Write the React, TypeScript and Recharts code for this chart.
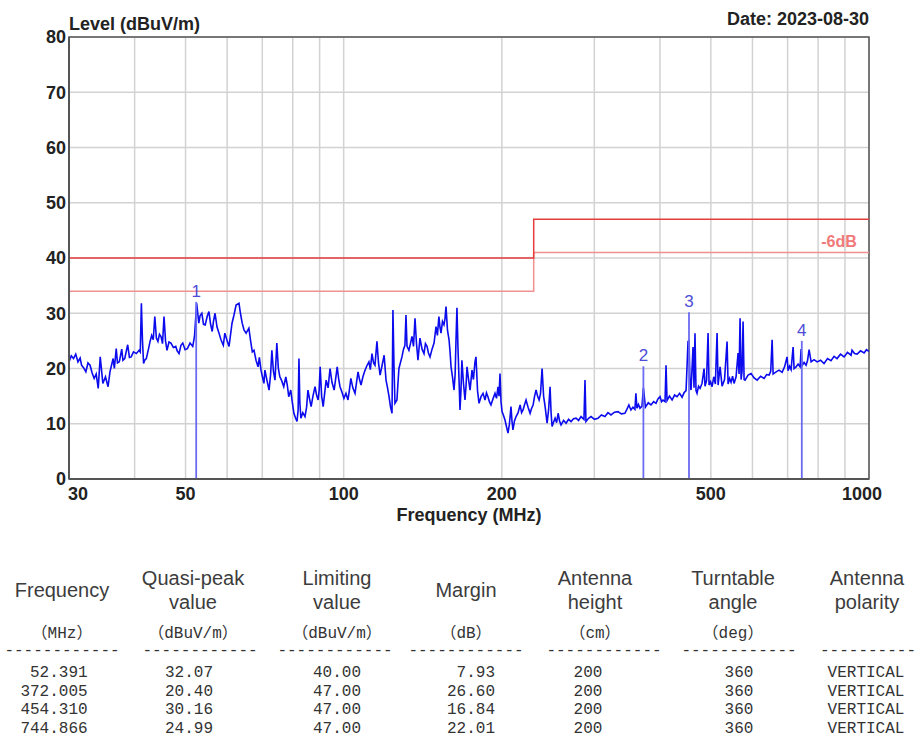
import React from 'react';
import {
  ComposedChart,
  Line,
  XAxis,
  YAxis,
  CartesianGrid,
  ReferenceLine,
  ReferenceDot,
  ReferenceArea,
} from 'recharts';

const trace: [number, number][] = [
  [30.0, 21.2], [30.3, 22.3], [30.6, 21.8], [30.9, 22.6], [31.2, 21.2], [31.5, 21.9], [31.7, 20.6], [32.0, 20.1],
  [32.3, 19.4], [32.6, 21.0], [32.9, 20.6], [33.2, 19.2], [33.5, 18.2], [33.8, 19.0], [34.1, 16.4], [34.4, 22.1],
  [34.8, 17.3], [35.2, 18.5], [35.6, 16.7], [35.9, 19.4], [36.4, 21.8], [36.6, 20.0], [36.9, 23.6], [37.1, 21.0],
  [37.4, 21.2], [37.8, 23.5], [38.0, 21.5], [38.3, 21.8], [38.8, 24.3], [39.1, 22.0], [39.4, 22.1], [39.8, 23.0],
  [40.3, 22.7], [40.8, 23.3], [41.0, 23.0], [41.2, 31.8], [41.4, 25.0], [41.6, 20.9], [41.8, 21.5], [42.1, 21.8],
  [42.5, 23.5], [42.8, 24.9], [43.1, 26.0], [43.4, 25.2], [43.7, 29.4], [44.0, 25.5], [44.3, 24.9], [44.6, 26.2],
  [44.9, 25.8], [45.2, 24.5], [45.5, 29.4], [45.8, 25.0], [46.1, 23.3], [46.5, 24.8], [46.9, 24.6], [47.4, 23.8],
  [47.9, 24.0], [48.2, 23.2], [48.6, 22.7], [49.0, 24.2], [49.4, 24.6], [49.9, 23.4], [50.4, 23.6], [51.0, 24.6],
  [51.6, 24.0], [52.0, 25.8], [52.5, 31.8], [53.0, 28.2], [53.3, 29.6], [53.7, 30.0], [54.1, 28.0], [54.5, 27.9],
  [55.0, 29.5], [55.4, 30.3], [55.8, 28.0], [56.2, 26.7], [56.5, 28.5], [56.9, 30.0], [57.4, 27.5], [57.9, 26.4],
  [58.4, 25.2], [59.0, 24.2], [59.4, 26.4], [60.0, 25.0], [60.5, 24.0], [61.3, 28.2], [61.8, 29.6], [62.4, 31.5],
  [63.2, 31.8], [63.6, 30.0], [64.1, 28.2], [64.6, 27.0], [65.2, 26.4], [66.0, 27.3], [66.5, 25.0], [67.0, 23.0],
  [67.5, 23.3], [68.1, 21.5], [68.7, 20.3], [69.1, 22.0], [69.6, 19.7], [70.0, 18.6], [70.5, 17.3], [70.8, 19.7],
  [71.4, 18.0], [72.1, 16.1], [72.6, 19.0], [73.0, 23.3], [73.5, 19.5], [74.0, 17.9], [74.6, 24.6], [75.1, 20.0],
  [75.6, 18.5], [76.2, 17.8], [76.9, 16.7], [77.6, 18.5], [78.1, 17.0], [78.6, 14.9], [79.3, 16.1], [79.8, 14.0],
  [80.4, 11.9], [81.0, 11.0], [81.5, 10.4], [81.9, 12.5], [82.2, 21.8], [82.5, 14.0], [82.9, 11.0], [83.6, 12.0],
  [84.4, 11.3], [85.0, 13.0], [85.5, 16.1], [86.1, 14.5], [86.7, 13.1], [87.4, 15.0], [88.2, 16.7], [88.8, 15.2],
  [89.4, 14.3], [89.8, 16.0], [90.2, 20.3], [90.8, 15.0], [91.4, 13.1], [92.0, 15.5], [92.6, 17.9], [93.4, 16.5],
  [94.2, 20.0], [95.0, 17.5], [95.9, 16.1], [96.5, 18.0], [97.2, 20.3], [97.8, 18.2], [98.4, 16.7], [99.2, 15.8],
  [100.1, 14.6], [101.0, 15.5], [101.9, 14.3], [102.5, 16.0], [103.2, 18.2], [104.1, 16.5], [105.1, 15.5], [105.8, 17.5],
  [106.5, 19.4], [107.2, 18.0], [107.9, 17.0], [108.8, 18.5], [109.8, 19.7], [110.7, 20.5], [111.7, 21.2], [112.4, 19.8],
  [113.2, 22.7], [114.0, 21.0], [114.7, 20.6], [115.7, 24.9], [116.5, 21.0], [117.3, 18.8], [118.3, 20.5], [119.4, 22.4],
  [120.4, 17.9], [121.2, 16.5], [122.0, 14.9], [122.8, 13.0], [123.6, 11.9], [124.1, 30.6], [124.7, 20.0], [125.2, 13.7],
  [126.3, 14.3], [126.8, 17.0], [127.4, 20.0], [128.2, 21.0], [129.1, 22.1], [130.0, 23.5], [130.8, 24.2], [131.4, 29.7],
  [132.0, 24.0], [133.1, 23.3], [134.0, 24.5], [134.9, 25.8], [135.8, 24.0], [136.7, 29.1], [137.6, 24.5], [138.5, 21.5],
  [139.1, 23.5], [139.7, 25.5], [141.0, 23.5], [142.2, 22.7], [143.1, 24.5], [144.1, 24.0], [145.0, 22.8], [146.0, 22.1],
  [147.3, 23.5], [148.6, 24.6], [149.9, 27.6], [150.8, 26.0], [151.8, 29.4], [152.5, 27.5], [153.2, 26.4], [154.2, 28.5],
  [155.2, 27.9], [155.9, 29.0], [156.6, 31.2], [157.6, 27.0], [158.7, 25.2], [159.4, 23.0], [160.1, 20.3], [161.1, 18.5],
  [162.2, 16.1], [163.0, 19.0], [163.6, 25.0], [164.3, 31.0], [165.0, 24.0], [165.8, 18.0], [166.5, 12.5], [167.2, 16.0],
  [167.9, 21.5], [169.0, 17.5], [170.2, 14.3], [171.0, 17.0], [171.7, 20.3], [172.9, 18.0], [174.0, 16.1], [174.8, 18.0],
  [175.5, 19.7], [176.6, 18.0], [177.8, 21.2], [178.6, 22.1], [179.8, 16.0], [181.0, 13.7], [182.6, 14.9], [184.2, 15.5],
  [185.8, 14.3], [187.0, 15.6], [188.2, 14.9], [189.4, 14.0], [190.7, 13.4], [192.4, 14.5], [194.1, 15.5], [195.4, 14.6],
  [196.7, 16.7], [197.6, 15.0], [198.4, 19.1], [199.3, 14.0], [200.2, 12.2], [201.5, 11.5], [202.8, 10.7], [204.1, 9.5],
  [205.5, 8.3], [206.8, 10.0], [208.2, 13.1], [209.1, 10.5], [210.0, 8.9], [211.4, 10.5], [212.9, 11.3], [214.8, 12.0],
  [216.7, 13.4], [218.1, 12.0], [219.5, 12.5], [221.0, 13.5], [222.4, 14.3], [224.4, 13.0], [226.4, 11.9], [227.9, 12.8],
  [229.4, 13.4], [230.9, 15.0], [232.4, 16.1], [233.9, 15.0], [235.5, 14.3], [237.0, 15.5], [238.6, 20.0], [240.2, 15.0],
  [241.8, 13.1], [243.9, 10.1], [245.5, 12.5], [247.1, 16.7], [248.2, 12.0], [249.3, 9.5], [251.0, 10.3], [252.6, 11.0],
  [254.3, 10.2], [256.0, 11.9], [257.6, 10.5], [259.3, 9.8], [262.2, 10.6], [265.1, 10.1], [268.0, 10.8], [270.9, 10.4],
  [273.9, 10.9], [276.9, 11.0], [280.0, 10.6], [283.0, 11.3], [286.7, 10.8], [288.0, 17.9], [289.2, 10.4], [292.5, 11.0],
  [295.7, 11.3], [300.2, 10.8], [304.8, 11.0], [309.5, 11.6], [314.3, 11.3], [318.5, 12.0], [322.7, 11.6], [327.7, 12.1],
  [332.7, 12.2], [337.8, 11.8], [343.0, 11.9], [346.0, 12.6], [349.1, 13.4], [352.2, 12.5], [355.3, 13.0], [358.4, 12.6],
  [360.0, 15.5], [361.6, 12.8], [364.0, 13.5], [366.5, 12.8], [369.7, 13.2], [372.0, 16.5], [375.3, 13.0], [380.0, 13.8],
  [384.6, 13.4], [389.0, 14.0], [393.1, 13.7], [396.5, 14.5], [400.1, 14.9], [402.8, 14.0], [405.4, 14.3], [409.0, 14.0],
  [410.8, 20.6], [412.6, 14.2], [417.0, 15.0], [421.8, 14.3], [426.5, 15.2], [431.1, 14.9], [436.0, 15.5], [440.7, 14.8],
  [444.5, 15.6], [448.5, 16.0], [452.4, 24.9], [454.3, 25.0], [456.4, 17.0], [458.4, 16.1], [462.4, 23.9], [464.4, 16.5],
  [466.4, 26.4], [468.5, 16.0], [470.6, 15.5], [473.7, 16.8], [476.9, 16.4], [481.0, 17.3], [485.3, 20.0], [487.4, 16.8],
  [490.6, 17.8], [493.9, 26.4], [496.1, 17.0], [499.4, 17.6], [502.7, 16.7], [506.4, 18.5], [510.0, 17.2], [513.8, 26.4],
  [516.1, 17.0], [520.6, 20.3], [525.2, 16.8], [530.9, 18.0], [536.8, 24.9], [539.2, 17.2], [542.8, 18.2], [546.3, 17.5],
  [549.9, 18.6], [553.5, 17.3], [558.4, 18.5], [563.3, 22.8], [565.8, 19.0], [568.3, 29.1], [570.8, 18.0], [573.3, 19.5],
  [575.8, 28.5], [578.4, 18.0], [580.9, 17.9], [588.6, 18.8], [596.4, 19.1], [604.4, 18.3], [612.4, 17.9], [621.9, 18.6],
  [631.5, 18.2], [638.4, 18.9], [645.4, 18.8], [650.0, 19.5], [654.0, 25.2], [656.9, 19.0], [665.6, 19.4], [674.3, 19.7],
  [683.3, 19.3], [690.7, 20.3], [698.3, 22.1], [701.4, 19.6], [706.0, 20.4], [710.7, 19.8], [717.0, 23.9], [720.1, 20.0],
  [726.4, 20.3], [733.0, 20.8], [739.4, 20.3], [742.6, 23.5], [745.8, 20.5], [752.4, 21.1], [759.0, 20.6], [764.0, 21.5],
  [769.1, 23.4], [775.9, 21.2], [786.0, 21.6], [796.6, 21.2], [808.8, 21.5], [821.1, 20.9], [833.8, 21.8], [846.6, 21.4],
  [858.0, 22.2], [869.2, 21.8], [882.7, 22.6], [896.4, 22.1], [910.0, 22.9], [924.3, 22.4], [928.4, 23.3], [938.6, 22.7],
  [949.0, 22.6], [963.8, 23.2], [978.8, 22.8], [989.0, 23.4], [1000.0, 23.1],
];

// limit line and -6dB line
const limitFreq = [30, 230, 230, 1000];
const limitLevel = [40, 40, 47, 47];
const warnLevel = [34, 34, 41, 41];

// peak table
const markerNo = ['1', '2', '3', '4'];
const peakFreq = [52.391, 372.005, 454.31, 744.866];
const peakLevel = [32.07, 20.4, 30.16, 24.99];
const limitValue = [40, 47, 47, 47];
const marginValue = [7.93, 26.6, 16.84, 22.01];
const antennaHeight = [200, 200, 200, 200];
const turntableAngle = [360, 360, 360, 360];
const polarity = ['VERTICAL', 'VERTICAL', 'VERTICAL', 'VERTICAL'];

const xTicks = [30, 40, 50, 60, 70, 80, 90, 100, 200, 300, 400, 500, 600, 700, 800, 900, 1000];
const xTickLabels = [30, 50, 100, 200, 500, 1000];
const yTicks = [0, 10, 20, 30, 40, 50, 60, 70, 80];

const headers = [
  ['Frequency'],
  ['Quasi-peak', 'value'],
  ['Limiting', 'value'],
  ['Margin'],
  ['Antenna', 'height'],
  ['Turntable', 'angle'],
  ['Antenna', 'polarity'],
];
const units = ['（MHz）', '（dBuV/m）', '（dBuV/m）', '（dB）', '（cm）', '（deg）', ''];

const traceData = trace.map(([f, level]) => ({ f, level }));
const limitData = limitFreq.map((f, i) => ({ f, level: limitLevel[i] }));
const warnData = limitFreq.map((f, i) => ({ f, level: warnLevel[i] }));

const rows = peakFreq.map((f, i) => [
  f.toFixed(3).padStart(7),
  peakLevel[i].toFixed(2),
  limitValue[i].toFixed(2),
  marginValue[i].toFixed(2).padStart(5),
  String(antennaHeight[i]),
  String(turntableAngle[i]),
  polarity[i],
]);

const headCenter = [62, 193, 337, 466, 595, 733, 867];
const dashCenter = [62, 200, 335, 466, 604, 739, 868];
const dashCount = [12, 12, 12, 12, 12, 12, 10];
const dataCenter = [54, 189, 337, 471, 588, 739, 866];

const BLUE = '#0b0bee';
const MARK = '#6b6bf2';

function FreqTick(props: any) {
  const { x, y, payload } = props;
  const v = payload.value;
  if (!xTickLabels.includes(v)) return <g />;
  const dx = v === 30 ? 9 : v === 1000 ? -7 : 0;
  return (
    <text x={x + dx} y={y} dy="0.71em" textAnchor="middle" fill="#222" fontSize={18} fontWeight="bold">
      {v}
    </text>
  );
}

export default function App() {
  const sans = '"Liberation Sans", Arial, sans-serif';
  const mono = '"Liberation Mono", "Noto Sans CJK SC", monospace';
  return (
    <div style={{ position: 'absolute', left: 0, top: 0, width: 920, height: 738, background: '#fff', fontFamily: sans }}>
      <div style={{ position: 'absolute', left: 69, top: 14, fontSize: 18, fontWeight: 'bold', color: '#222' }}>
        Level (dBuV/m)
      </div>
      <div style={{ position: 'absolute', right: 51, top: 9, fontSize: 18, fontWeight: 'bold', color: '#222' }}>
        Date: 2023-08-30
      </div>
      <ComposedChart width={920} height={540} margin={{ top: 37, right: 51, left: 9, bottom: 31 }}>
        <CartesianGrid stroke="#d2d2d2" strokeWidth={1.5} />
        <XAxis
          dataKey="f"
          type="number"
          scale="log"
          domain={[30, 1000]}
          allowDataOverflow
          ticks={xTicks}
          interval={0}
          tick={<FreqTick />}
          tickLine={false}
          tickSize={0}
          tickMargin={8}
          height={30}
          axisLine={{ stroke: '#555', strokeWidth: 2 }}
        />
        <YAxis
          type="number"
          domain={[0, 80]}
          ticks={yTicks}
          interval={0}
          width={60}
          tickLine={false}
          tickSize={0}
          tickMargin={3}
          tick={{ fill: '#222', fontSize: 18, fontWeight: 'bold' }}
          axisLine={{ stroke: '#555', strokeWidth: 2 }}
        />
        <ReferenceArea x1={30} x2={1000} y1={0} y2={80} fill="none" stroke="#555" strokeWidth={1.5} />
        <Line data={warnData} dataKey="level" type="linear" stroke="#f19090" strokeWidth={1.5} dot={false} isAnimationActive={false} />
        <Line data={limitData} dataKey="level" type="linear" stroke="#e53c3c" strokeWidth={1.5} dot={false} isAnimationActive={false} />
        <ReferenceDot
          x={877}
          y={41}
          r={0}
          fill="none"
          stroke="none"
          label={{ value: '-6dB', position: 'top', fill: '#f07a7a', fontSize: 16, fontWeight: 'bold' }}
        />
        <Line data={traceData} dataKey="level" type="linear" stroke={BLUE} strokeWidth={1.6} dot={false} isAnimationActive={false} />
        {peakFreq.map((f, i) => (
          <ReferenceLine
            key={'m' + i}
            segment={[
              { x: f, y: 0 },
              { x: f, y: peakLevel[i] },
            ]}
            stroke={MARK}
            strokeWidth={1.8}
          />
        ))}
        {peakFreq.map((f, i) => (
          <ReferenceDot
            key={'l' + i}
            x={f}
            y={peakLevel[i]}
            r={0}
            fill="none"
            stroke="none"
            label={{ value: markerNo[i], position: 'top', fill: '#4d4dd6', fontSize: 17 }}
          />
        ))}
      </ComposedChart>
      <div
        style={{
          position: 'absolute',
          left: 369,
          width: 200,
          top: 505,
          textAlign: 'center',
          fontSize: 18,
          fontWeight: 'bold',
          color: '#222',
        }}
      >
        Frequency (MHz)
      </div>

      {headers.map((h, c) => (
        <div
          key={'h' + c}
          style={{
            position: 'absolute',
            left: headCenter[c] - 70,
            width: 140,
            top: 566,
            height: 48,
            display: 'flex',
            flexDirection: 'column',
            justifyContent: 'center',
            alignItems: 'center',
            fontSize: 20,
            lineHeight: '24px',
            color: '#3c3c3c',
          }}
        >
          {h.map((t) => (
            <div key={t}>{t}</div>
          ))}
        </div>
      ))}
      {units.map((u, c) => (
        <div
          key={'u' + c}
          style={{
            position: 'absolute',
            left: headCenter[c] - 70,
            width: 140,
            top: 626,
            textAlign: 'center',
            fontFamily: mono,
            fontSize: 16,
            lineHeight: '16px',
            color: '#333',
          }}
        >
          {u}
        </div>
      ))}
      {dashCenter.map((d, c) => (
        <div
          key={'d' + c}
          style={{
            position: 'absolute',
            left: d - 60,
            width: 120,
            top: 643,
            textAlign: 'center',
            fontFamily: mono,
            fontSize: 16,
            lineHeight: '16px',
            color: '#333',
            whiteSpace: 'pre',
          }}
        >
          {'-'.repeat(dashCount[c])}
        </div>
      ))}
      {rows.map((r, ri) =>
        r.map((cell, c) => (
          <div
            key={'r' + ri + '-' + c}
            style={{
              position: 'absolute',
              left: dataCenter[c] - 70,
              width: 140,
              top: 664 + ri * 18.5,
              textAlign: 'center',
              fontFamily: mono,
              fontSize: 16,
              lineHeight: '18px',
              color: '#333',
              whiteSpace: 'pre',
            }}
          >
            {cell}
          </div>
        ))
      )}
    </div>
  );
}
